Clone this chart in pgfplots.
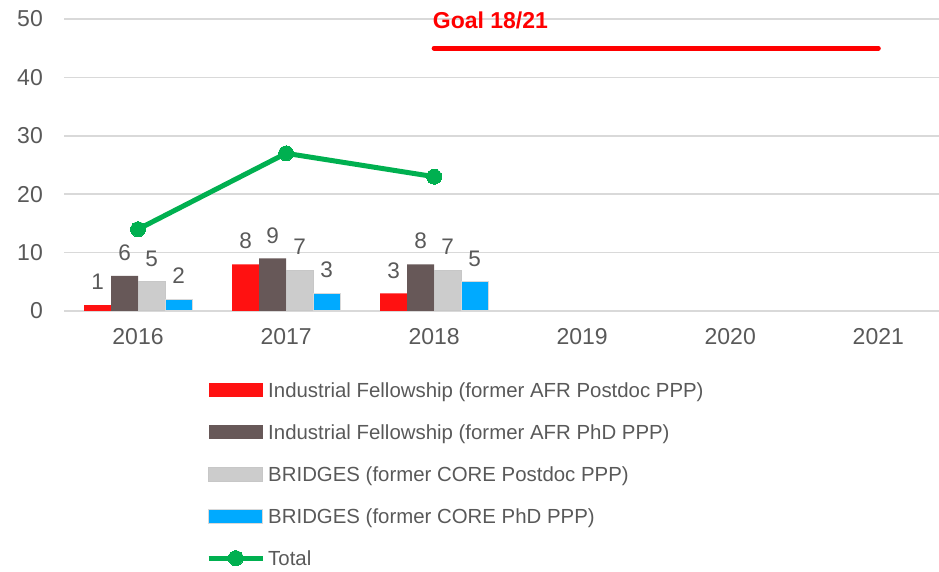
\documentclass[border=0pt]{standalone}
\usepackage{fontspec}
\setmainfont{Liberation Sans}
\usepackage{pgfplots}
\pgfplotsset{compat=1.18}
\definecolor{cRed}{HTML}{FF1111}
\definecolor{cBrown}{HTML}{675858}
\definecolor{cGray}{HTML}{CCCCCC}
\definecolor{cBlue}{HTML}{00AAFF}
\definecolor{cGreen}{HTML}{00B050}
\definecolor{cGoal}{HTML}{FF0000}
\definecolor{txt}{HTML}{595959}
\definecolor{gridc}{HTML}{D9D9D9}
\pgfplotsset{
  barleg/.style={legend image code/.code={\fill[#1] (0pt,-5pt) rectangle (54pt,9pt);}},
  lineleg/.style={legend image code/.code={\draw[#1, mark repeat=2, mark phase=2] plot coordinates {(0pt,2pt) (27pt,2pt) (54pt,2pt)};}},
}
\begin{document}
\begin{tikzpicture}
\path[use as bounding box] (0,0) rectangle (939pt,572pt);
\begin{axis}[
  at={(64pt,261pt)}, anchor=south west,
  scale only axis, width=875pt, height=292pt,
  xmin=-0.5, xmax=5.41, ymin=0, ymax=50,
  xtick={0,1,2,3,4,5},
  xticklabels={2016,2017,2018,2019,2020,2021},
  ytick={0,10,20,30,40,50},
  ymajorgrids=true, xmajorgrids=false,
  major grid style={draw=gridc, line width=1.5pt},
  axis line style={draw=none},
  major tick length=0pt,
  clip=false,
  /pgf/number format/assume math mode=true,
  tick label style={font=\fontsize{23}{27}\selectfont, text=txt, inner sep=0pt},
  yticklabel style={anchor=east, xshift=-21pt},
  xticklabel style={anchor=north, yshift=-17pt},
  nodes near coords style={font=\fontsize{22.5}{26}\selectfont, text=txt, inner sep=0pt, anchor=south, yshift=15pt},
  legend style={at={(0.1589,-0.236)}, anchor=north west, draw=none, fill=none,
    font=\fontsize{20.4}{24}\selectfont, text=txt, row sep=22pt,
    nodes={inner sep=0pt, text height=15pt, text depth=5pt},
    /tikz/every odd column/.append style={column sep=3pt}},
  legend cell align=left,
]
\addplot[ybar, bar width=27pt, bar shift=-40.5pt, fill=cRed, draw=none, nodes near coords,
  every node near coord/.append style={xshift=-40.5pt}, barleg]
  coordinates {(0,1) (1,8) (2,3)};
\addlegendentry{Industrial Fellowship (former AFR Postdoc PPP)}
\addplot[ybar, bar width=27pt, bar shift=-13.5pt, fill=cBrown, draw=none, nodes near coords,
  every node near coord/.append style={xshift=-13.5pt}, barleg]
  coordinates {(0,6) (1,9) (2,8)};
\addlegendentry{Industrial Fellowship (former AFR PhD PPP)}
\addplot[ybar, bar width=27pt, bar shift=13.5pt, fill=cGray, draw=black!22, line width=1pt, nodes near coords,
  every node near coord/.append style={xshift=13.5pt}, barleg]
  coordinates {(0,5) (1,7) (2,7)};
\addlegendentry{BRIDGES (former CORE Postdoc PPP)}
\addplot[ybar, bar width=27pt, bar shift=40.5pt, fill=cBlue, draw=gridc, line width=1pt, nodes near coords,
  every node near coord/.append style={xshift=40.5pt}, barleg]
  coordinates {(0,2) (1,3) (2,5)};
\addlegendentry{BRIDGES (former CORE PhD PPP)}
\addplot[cGreen, line width=5pt, mark=*, mark size=7.5pt, mark options={fill=cGreen, draw=cGreen, line width=0pt}, lineleg]
  coordinates {(0,14) (1,27) (2,23)};
\addlegendentry{Total}
\addplot[cGoal, line width=5pt, line cap=round, forget plot] coordinates {(2,45) (5,45)};
\node[anchor=base west, inner sep=0pt, text=cGoal, font=\fontsize{23}{27}\selectfont\bfseries] at (axis cs:1.99,48.3) {Goal 18/21};
\end{axis}
\end{tikzpicture}
\end{document}
